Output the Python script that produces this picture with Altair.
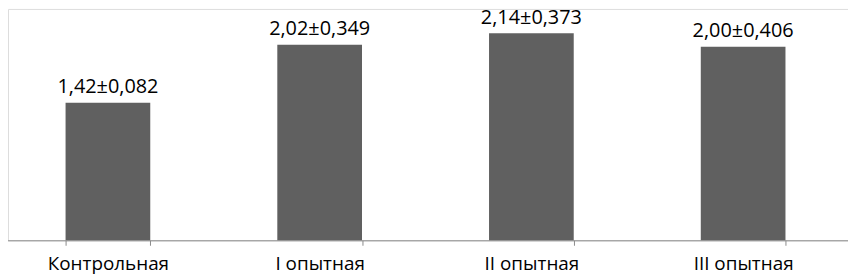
import altair as alt
import pandas as pd

categories = ["Контрольная", "I опытная", "II опытная", "III опытная"]
values = [1.42, 2.02, 2.14, 2.00]
labels = ["1,42±0,082", "2,02±0,349", "2,14±0,373", "2,00±0,406"]

df = pd.DataFrame({"cat": categories, "val": values, "lab": labels})

FONT = "Open Sans"

x = alt.X(
    "cat:N",
    sort=categories,
    title=None,
    scale=alt.Scale(range=[-6, 847], paddingInner=0.6, paddingOuter=0.3),
    axis=alt.Axis(
        domainColor="#8a8a8a",
        tickColor="#8a8a8a",
        tickSize=5,
        tickBand="extent",
        labelFont=FONT,
        labelFontSize=19,
        labelColor="#000000",
        labelPadding=9,
        labelAngle=0,
        grid=False,
    ),
)
y = alt.Y("val:Q", title=None, axis=None, scale=alt.Scale(domain=[0, 2.39], nice=False, zero=True))

bars = alt.Chart(df).mark_bar(color="#606060").encode(x=x, y=y)
text = alt.Chart(df).mark_text(
    font=FONT, fontSize=20, color="#000000", baseline="alphabetic", dy=-9.5
).encode(x=x, y=y, text="lab:N")

chart = (
    alt.layer(bars, text)
    .properties(
        width=846,
        height=233,
        autosize=alt.AutoSizeParams(type="none"),
        padding={"left": 0, "top": 0, "right": 0, "bottom": 36},
    )
    .configure_view(stroke=None)
    .configure(background="white")
)

chart.save("out.html", embed_options={"renderer": "svg", "actions": False})
